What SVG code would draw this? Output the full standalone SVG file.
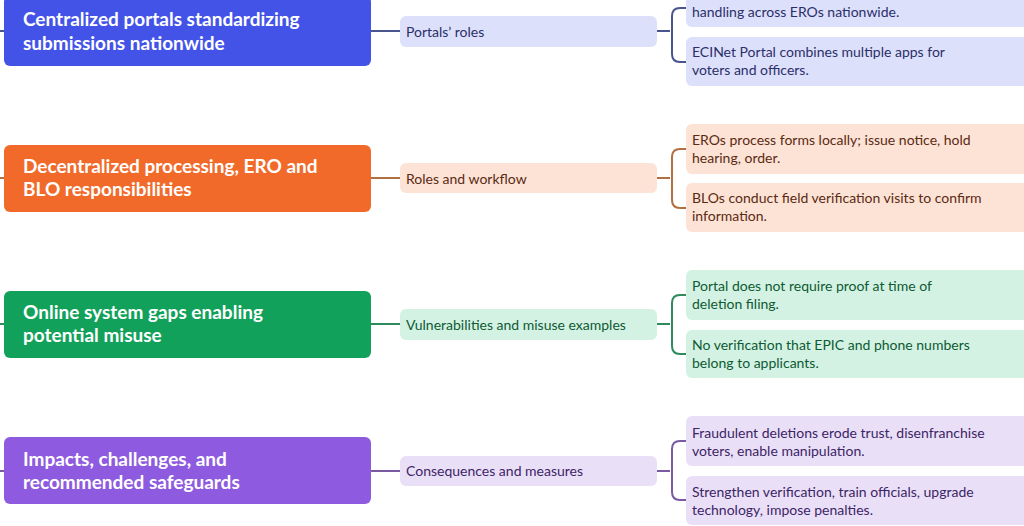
<svg xmlns="http://www.w3.org/2000/svg" width="1024" height="526" viewBox="0 0 1024 526">
<style>
.m{font-family:Lato,"Liberation Sans",sans-serif;font-size:19px;font-weight:700;fill:#fff}
.s{font-family:Lato,"Liberation Sans",sans-serif;font-size:14px}
.r{font-family:Lato,"Liberation Sans",sans-serif;font-size:14px}
.c{fill:none;stroke-width:2}
</style>
<rect width="1024" height="526" fill="#fff"/>
<g id="connectors">
<path class="c" stroke="#4a5590" d="M0 31H4M371 31H400M657 31H670M686 8H680Q672 8 672 16V54Q672 62 680 62H686"/>
<path class="c" stroke="#b0703f" d="M0 178H4M371 178H400M657 178H670M686 149H680Q672 149 672 157V200Q672 208 680 208H686"/>
<path class="c" stroke="#2f8a5e" d="M0 324H4M371 324H400M657 324H670M686 295H680Q672 295 672 303V346Q672 354 680 354H686"/>
<path class="c" stroke="#7a5aa0" d="M0 471H4M371 471H400M657 471H670M686 441H680Q672 441 672 449V492Q672 500 680 500H686"/>
</g>
<g id="n1">
<rect x="4" y="-4" width="367" height="70" rx="6" fill="#4353E8"/>
<text class="m" x="23" y="26">Centralized portals standardizing</text>
<text class="m" x="23" y="50">submissions nationwide</text>
<rect x="400" y="16" width="257" height="31" rx="6" fill="#DDE0FA"/>
<text class="s" x="406" y="37" fill="#2a2f6a">Portals’ roles</text>
<rect x="686" y="-12" width="345" height="39" rx="6" fill="#DDE0FA"/>
<text class="r" x="692" y="17" fill="#2a2f6a">handling across EROs nationwide.</text>
<rect x="686" y="37" width="345" height="49" rx="6" fill="#DDE0FA"/>
<text class="r" x="692" y="57" fill="#2a2f6a">ECINet Portal combines multiple apps for</text>
<text class="r" x="692" y="75" fill="#2a2f6a">voters and officers.</text>
</g>
<g id="n2">
<rect x="4" y="145" width="367" height="67" rx="6" fill="#F26A2A"/>
<text class="m" x="23" y="173">Decentralized processing, ERO and</text>
<text class="m" x="23" y="196">BLO responsibilities</text>
<rect x="400" y="163" width="257" height="30" rx="6" fill="#FDE3D6"/>
<text class="s" x="406" y="184" fill="#5a2a12">Roles and workflow</text>
<rect x="686" y="124" width="345" height="50" rx="6" fill="#FDE3D6"/>
<text class="r" x="692" y="145" fill="#5a2a12">EROs process forms locally; issue notice, hold</text>
<text class="r" x="692" y="163" fill="#5a2a12">hearing, order.</text>
<rect x="686" y="183" width="345" height="49" rx="6" fill="#FDE3D6"/>
<text class="r" x="692" y="203" fill="#5a2a12">BLOs conduct field verification visits to confirm</text>
<text class="r" x="692" y="221" fill="#5a2a12">information.</text>
</g>
<g id="n3">
<rect x="4" y="291" width="367" height="67" rx="6" fill="#12A15A"/>
<text class="m" x="23" y="319">Online system gaps enabling</text>
<text class="m" x="23" y="342">potential misuse</text>
<rect x="400" y="309" width="257" height="31" rx="6" fill="#D4F2E3"/>
<text class="s" x="406" y="330" fill="#0d5a33">Vulnerabilities and misuse examples</text>
<rect x="686" y="270" width="345" height="50" rx="6" fill="#D4F2E3"/>
<text class="r" x="692" y="291" fill="#0d5a33">Portal does not require proof at time of</text>
<text class="r" x="692" y="309" fill="#0d5a33">deletion filing.</text>
<rect x="686" y="330" width="345" height="48" rx="6" fill="#D4F2E3"/>
<text class="r" x="692" y="350" fill="#0d5a33">No verification that EPIC and phone numbers</text>
<text class="r" x="692" y="368" fill="#0d5a33">belong to applicants.</text>
</g>
<g id="n4">
<rect x="4" y="437" width="367" height="67" rx="6" fill="#8E5BE0"/>
<text class="m" x="23" y="466">Impacts, challenges, and</text>
<text class="m" x="23" y="489">recommended safeguards</text>
<rect x="400" y="456" width="257" height="30" rx="6" fill="#E9E0F8"/>
<text class="s" x="406" y="476" fill="#3e2466">Consequences and measures</text>
<rect x="686" y="416" width="345" height="50" rx="6" fill="#E9E0F8"/>
<text class="r" x="692" y="438" fill="#3e2466">Fraudulent deletions erode trust, disenfranchise</text>
<text class="r" x="692" y="456" fill="#3e2466">voters, enable manipulation.</text>
<rect x="686" y="476" width="345" height="49" rx="6" fill="#E9E0F8"/>
<text class="r" x="692" y="497" fill="#3e2466">Strengthen verification, train officials, upgrade</text>
<text class="r" x="692" y="515" fill="#3e2466">technology, impose penalties.</text>
</g>
</svg>
